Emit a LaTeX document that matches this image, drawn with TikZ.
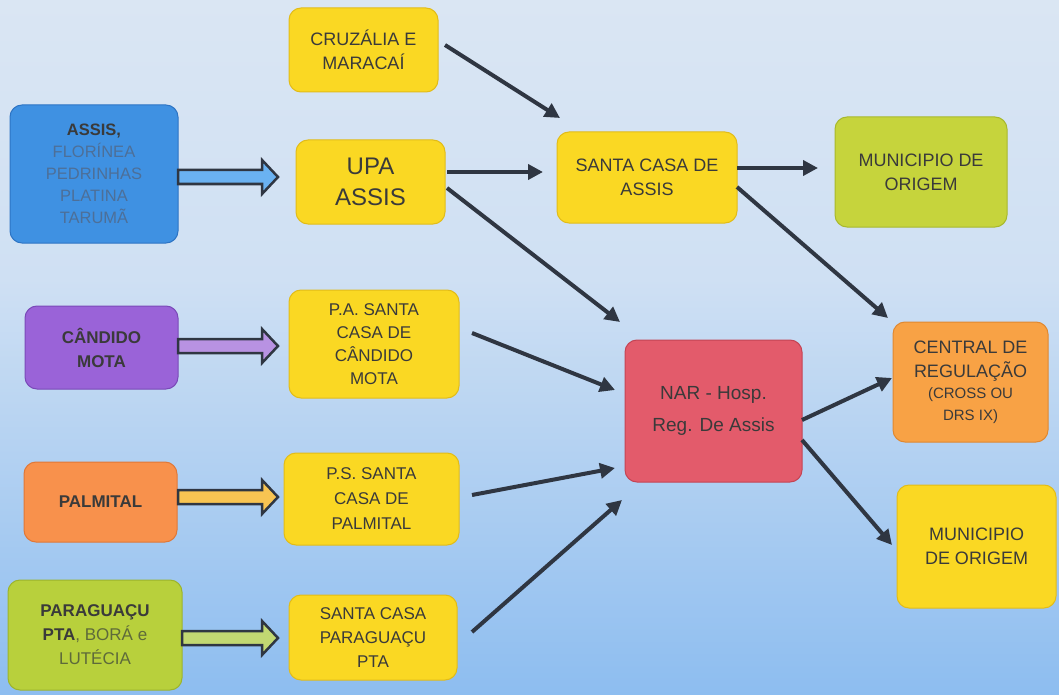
\documentclass[tikz,border=0pt]{standalone}
\usepackage{fontspec}
\setmainfont{Liberation Sans}
\usetikzlibrary{arrows.meta,calc}
\definecolor{bgtop}{HTML}{E8EDF2}
\definecolor{bgmid}{HTML}{CFE0F3}
\definecolor{bglow}{HTML}{8DBDF0}
\definecolor{bgbot}{HTML}{4E93E3}
\definecolor{txt}{HTML}{3A3A3A}
\definecolor{arr}{HTML}{2F3642}
\definecolor{yel}{HTML}{FAD823}
\definecolor{yelD}{HTML}{E2BC18}
\definecolor{lime}{HTML}{C6D43C}
\definecolor{limeD}{HTML}{A8B82C}
\definecolor{blu}{HTML}{3F91E2}
\definecolor{bluD}{HTML}{2D74C4}
\definecolor{pur}{HTML}{9A63D8}
\definecolor{purD}{HTML}{7A4AB8}
\definecolor{red}{HTML}{E35B6B}
\definecolor{redD}{HTML}{C44454}
\definecolor{ora}{HTML}{F8A245}
\definecolor{oraD}{HTML}{E08830}
\definecolor{pal}{HTML}{F8914C}
\definecolor{palD}{HTML}{E07838}
\definecolor{grn}{HTML}{B8D03C}
\definecolor{grnD}{HTML}{9CB42C}
\definecolor{blueTxt}{HTML}{4D6F98}
\definecolor{grnTxt}{HTML}{5E6A3A}
\definecolor{ar1}{HTML}{6AB2F2}
\definecolor{ar2}{HTML}{B892E2}
\definecolor{ar3}{HTML}{F8C452}
\definecolor{ar4}{HTML}{C2D872}
\pgfdeclareverticalshading{bgshade}{100bp}{color(0bp)=(bgbot); color(25bp)=(bglow); color(55bp)=(bgmid); color(100bp)=(bgtop)}
\newcommand\bkarrow[3]{%
  \draw[bkstyle, fill=#3] let \p1=#1, \p2=#2 in
    (\x1,\y1+7pt) -- (\x2-16pt,\y1+7pt) -- (\x2-16pt,\y1+17pt) -- (\x2,\y1)
    -- (\x2-16pt,\y1-17pt) -- (\x2-16pt,\y1-7pt) -- (\x1,\y1-7pt) -- cycle;}
\begin{document}
\begin{tikzpicture}[x=1pt,y=-1pt,
  box/.style={rectangle, rounded corners=12pt, line width=1pt, outer sep=0pt,
    inner sep=2pt, align=center, text=txt,
    font=\fontsize{18}{24}\selectfont},
  conn/.style={line width=4pt, draw=arr, -{Triangle[length=15pt,width=15pt]}},
  bkstyle/.style={draw=arr, line width=2.5pt, line join=miter}]
\useasboundingbox (0,0) rectangle (1059,695);
\fill[shading=bgshade] (0,0) rectangle (1059,695);

% nodes
\node[box, fill=yel, draw=yelD, minimum width=149pt, minimum height=84pt] (cruz) at (363.5,50) {CRUZÁLIA E\\MARACAÍ};
\node[box, fill=yel, draw=yelD, minimum width=149pt, minimum height=84pt,
  font=\fontsize{24}{31}\selectfont] (upa) at (370.5,182) {UPA\\ASSIS};
\node[box, fill=yel, draw=yelD, minimum width=180pt, minimum height=91pt] (scassis) at (647,177.5) {SANTA CASA DE\\ASSIS};
\node[box, fill=lime, draw=limeD, minimum width=172pt, minimum height=110pt] (munA) at (921,172) {MUNICIPIO DE\\ORIGEM};
\node[box, fill=blu, draw=bluD, minimum width=168pt, minimum height=138pt,
  font=\fontsize{16.5}{22}\selectfont] (assis) at (94,174)
  {\textbf{ASSIS,}\\\textcolor{blueTxt}{FLORÍNEA}\\\textcolor{blueTxt}{PEDRINHAS}\\\textcolor{blueTxt}{PLATINA}\\\textcolor{blueTxt}{TARUMÃ}};
\node[box, fill=pur, draw=purD, minimum width=153pt, minimum height=83pt,
  font=\fontsize{17}{24}\selectfont\bfseries] (candido) at (101.5,347.5) {CÂNDIDO\\MOTA};
\node[box, fill=yel, draw=yelD, minimum width=170pt, minimum height=108pt,
  font=\fontsize{17}{23}\selectfont] (pa) at (374,344) {P.A. SANTA\\CASA DE\\CÂNDIDO\\MOTA};
\node[box, fill=red, draw=redD, minimum width=177pt, minimum height=142pt,
  font=\fontsize{19}{32}\selectfont] (nar) at (713.5,411) {NAR - Hosp.\\Reg. De Assis};
\node[box, fill=ora, draw=oraD, minimum width=155pt, minimum height=120pt] (central) at (970.5,382)
  {CENTRAL DE\\REGULAÇÃO\\[-3pt]{\fontsize{15}{22}\selectfont (CROSS OU}\\[-2pt]{\fontsize{15}{22}\selectfont DRS IX)}};
\node[box, fill=yel, draw=yelD, minimum width=159pt, minimum height=123pt] (munB) at (976.5,546.5) {MUNICIPIO\\DE ORIGEM};
\node[box, fill=pal, draw=palD, minimum width=153pt, minimum height=80pt,
  font=\fontsize{17}{24}\selectfont\bfseries] (palmital) at (100.5,502) {PALMITAL};
\node[box, fill=yel, draw=yelD, minimum width=175pt, minimum height=92pt,
  font=\fontsize{17}{25}\selectfont] (ps) at (371.5,499) {P.S. SANTA\\CASA DE\\PALMITAL};
\node[box, fill=grn, draw=grnD, minimum width=174pt, minimum height=110pt,
  font=\fontsize{17}{24}\selectfont] (parag) at (95,635)
  {\textbf{PARAGUAÇU}\\\textbf{PTA}\textcolor{grnTxt}{, BORÁ e}\\\textcolor{grnTxt}{LUTÉCIA}};
\node[box, fill=yel, draw=yelD, minimum width=168pt, minimum height=85pt,
  font=\fontsize{17}{24}\selectfont] (scpar) at (373,637.5) {SANTA CASA\\PARAGUAÇU\\PTA};

% block arrows
\bkarrow{($(assis.east)+(0,3)$)}{($(upa.west)+(-18,-5)$)}{ar1}
\bkarrow{($(candido.east)+(0,-1.5)$)}{($(pa.west)+(-11,2)$)}{ar2}
\bkarrow{($(palmital.east)+(1,-5)$)}{($(ps.west)+(-6,-2)$)}{ar3}
\bkarrow{($(parag.east)+(0,3)$)}{($(scpar.west)+(-11,0)$)}{ar4}

% connectors
\draw[conn] ($(cruz.east)+(7,-5)$) -- ($(scassis.north west)+(3,-14)$);
\draw[conn] ($(upa.east)+(2,-10)$) -- ($(scassis.west)+(-14,-5.5)$);
\draw[conn] ($(upa.east)+(2,6)$) -- ($(nar.north west)+(-5,-18)$);
\draw[conn] ($(scassis.east)+(0,-9.5)$) -- ($(munA.west)+(-17,-4)$);
\draw[conn] ($(scassis.east)+(0,9.5)$) -- ($(central.north west)+(-5,-4)$);
\draw[conn] ($(pa.east)+(13,-11)$) -- ($(nar.west)+(-10,-21)$);
\draw[conn] ($(ps.east)+(13,-4)$) -- ($(nar.south west)+(-10,-14)$);
\draw[conn] ($(scpar.east)+(15,-5.5)$) -- ($(nar.south west)+(-3,18)$);
\draw[conn] ($(nar.east)+(0,9)$) -- ($(central.west)+(-1,-4)$);
\draw[conn] ($(nar.east)+(0,29)$) -- ($(munB.west)+(-5,-1.5)$);
\end{tikzpicture}
\end{document}
